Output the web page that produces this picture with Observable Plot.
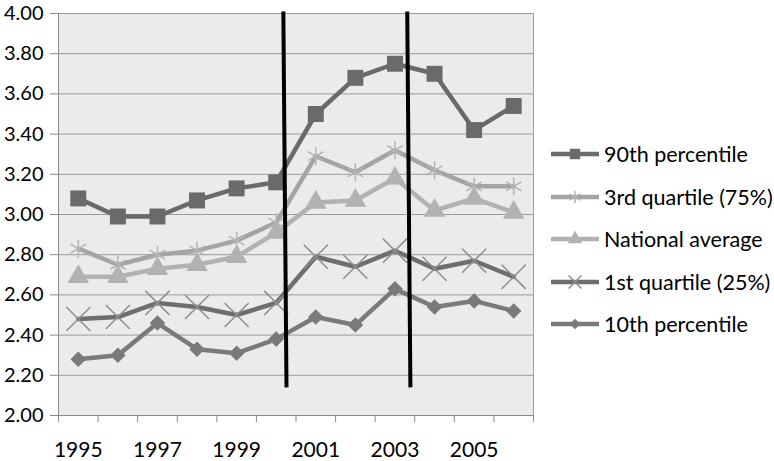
<!DOCTYPE html>
<html>
<head>
<meta charset="utf-8">
<script src="https://cdn.jsdelivr.net/npm/d3@7"></script>
<script src="https://cdn.jsdelivr.net/npm/@observablehq/plot@0.6"></script>
<style>
  html, body { margin: 0; padding: 0; background: #fff; }
  #wrap { position: relative; width: 774px; height: 461px; font-family: Lato, sans-serif; }
  #legend { position: absolute; left: 548px; top: 133px; }
  .row { height: 42.5px; display: flex; align-items: center; font-size: 21.5px; color: #000; white-space: nowrap; }
  .row svg { display: block; margin-right: 2px; }
</style>
</head>
<body>
<div id="wrap"><div id="chart"></div><div id="legend"></div></div>
<script>
const years = [1995, 1996, 1997, 1998, 1999, 2000, 2001, 2002, 2003, 2004, 2005, 2006];
const seriesNames = ["90th percentile", "3rd quartile (75%)", "National average", "1st quartile (25%)", "10th percentile"];
const p90    = [3.08, 2.99, 2.99, 3.07, 3.13, 3.16, 3.50, 3.68, 3.75, 3.70, 3.42, 3.54];
const q75    = [2.83, 2.75, 2.80, 2.82, 2.87, 2.96, 3.29, 3.21, 3.32, 3.22, 3.14, 3.14];
const natAvg = [2.69, 2.69, 2.73, 2.75, 2.79, 2.91, 3.06, 3.07, 3.18, 3.02, 3.08, 3.01];
const q25    = [2.48, 2.49, 2.56, 2.54, 2.50, 2.56, 2.79, 2.74, 2.82, 2.73, 2.77, 2.69];
const p10    = [2.28, 2.30, 2.46, 2.33, 2.31, 2.38, 2.49, 2.45, 2.63, 2.54, 2.57, 2.52];
const yTicks = [2.0, 2.2, 2.4, 2.6, 2.8, 3.0, 3.2, 3.4, 3.6, 3.8, 4.0];
const xLabelYears = [1995, 1997, 1999, 2001, 2003, 2005];
const xTickEdges = [1994.5, 1995.5, 1996.5, 1997.5, 1998.5, 1999.5, 2000.5, 2001.5, 2002.5, 2003.5, 2004.5, 2005.5, 2006.5];
// two vertical reference lines (slightly slanted in the original)
const refLines = [
  {x1: 2000.18, y1: 4.01, x2: 2000.26, y2: 2.14},
  {x1: 2003.31, y1: 4.01, x2: 2003.39, y2: 2.14}
];

const styles = [
  {values: p90,    line: "#6a6a6a", mark: "#6a6a6a", symbol: "square",   r: 9,   filled: true},
  {values: q75,    line: "#a4a4a4", mark: "#b4b4b4", symbol: "asterisk", r: 8.5, filled: false},
  {values: natAvg, line: "#b2b2b2", mark: "#b2b2b2", symbol: "triangle", r: 8,   filled: true},
  {values: q25,    line: "#6e6e6e", mark: "#8e8e8e", symbol: "times",    r: 11,  filled: false},
  {values: p10,    line: "#7a7a7a", mark: "#7a7a7a", symbol: "diamond2", r: 7,   filled: true}
];

const rows = [];
seriesNames.forEach((name, s) => years.forEach((yr, i) => rows.push({series: name, year: yr, value: styles[s].values[i]})));

const marks = [
  Plot.frame({fill: "#ebebeb", stroke: "#a0a0a0"}),
  Plot.gridY(yTicks, {stroke: "#9a9a9a", strokeOpacity: 1}),
  Plot.axisY(yTicks, {tickSize: 8, tickPadding: 7, tickFormat: d => d.toFixed(2), stroke: "#8a8a8a", fontSize: 20, label: null}),
  Plot.axisX(xTickEdges, {tickSize: 7, tickFormat: () => "", stroke: "#8a8a8a", label: null}),
  Plot.axisX(xLabelYears, {tickSize: 0, tickPadding: 27, tickFormat: d => String(d), fontSize: 21, label: null}),
  Plot.ruleY([2], {stroke: "#8a8a8a"}),
  Plot.ruleX([1994.5], {stroke: "#8a8a8a"})
];
seriesNames.forEach((name, s) => {
  const st = styles[s];
  const data = rows.filter(d => d.series === name);
  marks.push(Plot.line(data, {x: "year", y: "value", stroke: st.line, strokeWidth: 4.5}));
  marks.push(Plot.dot(data, st.filled
    ? {x: "year", y: "value", symbol: () => st.symbol, r: st.r, fill: st.mark, stroke: "none"}
    : {x: "year", y: "value", symbol: () => st.symbol, r: st.r, stroke: st.mark, strokeWidth: 1.5, fill: "none"}));
});
marks.push(Plot.link(refLines, {x1: "x1", y1: "y1", x2: "x2", y2: "y2", stroke: "#000", strokeWidth: 4}));

const chart = Plot.plot({
  width: 540,
  height: 461,
  marginLeft: 58,
  marginRight: 7,
  marginTop: 13,
  marginBottom: 46,
  x: {domain: [1994.5, 2006.5], axis: null},
  y: {domain: [2, 4], axis: null},
  symbol: {type: "identity"},
  style: {fontFamily: "Lato, sans-serif", fontSize: "21px", color: "#000", background: "transparent"},
  marks
});
document.getElementById("chart").appendChild(chart);

// legend
const legend = d3.select("#legend");
const symMap = {square: d3.symbolSquare, asterisk: d3.symbolAsterisk, triangle: d3.symbolTriangle, times: d3.symbolTimes, diamond2: d3.symbolDiamond2};
const legSizes = {square: 110, asterisk: 110, triangle: 90, times: 110, diamond2: 70};
seriesNames.forEach((name, s) => {
  const st = styles[s];
  const row = legend.append("div").attr("class", "row");
  const svg = row.append("svg").attr("width", 54).attr("height", 20);
  svg.append("line").attr("x1", 3).attr("x2", 51).attr("y1", 10).attr("y2", 10)
    .attr("stroke", st.line).attr("stroke-width", 4.5);
  const path = svg.append("path").attr("transform", "translate(27,10)")
    .attr("d", d3.symbol(symMap[st.symbol], legSizes[st.symbol])());
  if (st.filled) path.attr("fill", st.mark);
  else path.attr("fill", "none").attr("stroke", st.mark).attr("stroke-width", 1.5);
  row.append("span").text(name);
});
</script>
</body>
</html>
